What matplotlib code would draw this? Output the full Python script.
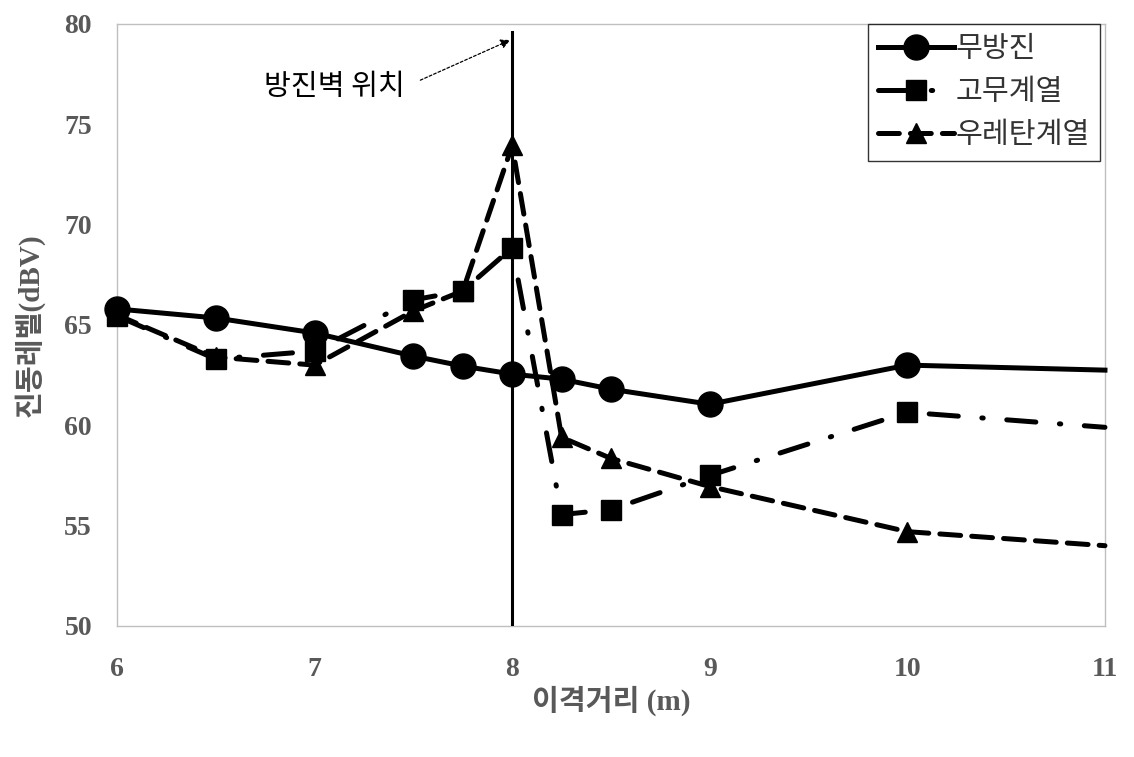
import matplotlib
matplotlib.use("Agg")
import matplotlib.pyplot as plt

plt.rcParams['lines.scale_dashes'] = False

x_base = [6, 6.5, 7, 7.5, 7.75, 8, 8.25, 8.5, 9, 10, 11]
none_vals = [65.8, 65.35, 64.6, 63.45, 62.95, 62.55, 62.3, 61.8, 61.05, 63.0, 62.75]
rubber_vals = [65.45, 63.3, 63.7, 66.25, 66.7, 68.85, 55.55, 55.8, 57.5, 60.65, 59.9]
urethane_vals = [65.5, 63.4, 63.0, 65.7, 66.7, 73.95, 59.4, 58.35, 56.95, 54.7, 54.0]
labels = ['무방진', '고무계열', '우레탄계열']
xticks = [6, 7, 8, 9, 10, 11]
yticks = [50, 55, 60, 65, 70, 75, 80]
wall_x = 8
wall_label = '방진벽 위치'

num_font = ['Liberation Serif', 'Noto Sans CJK KR']
kr_font = ['Noto Sans CJK KR', 'DejaVu Sans']
gray = '#595959'

fig = plt.figure(figsize=(11.34, 7.57), dpi=100)
ax = fig.add_axes([0.1032, 0.1731, 0.8712, 0.7952])

marks = list(range(len(x_base) - 1))

ax.plot(x_base, none_vals, color='black', lw=3.6, marker='o', ms=18,
        markevery=marks, label=labels[0], clip_on=False, zorder=5)
ax.plot(x_base, rubber_vals, color='black', lw=3.6, marker='s', ms=14,
        markevery=marks, dashes=(21, 17, 1, 17), dash_capstyle='round',
        label=labels[1], clip_on=False, zorder=4)
ax.plot(x_base, urethane_vals, color='black', lw=3.6, marker='^', ms=15,
        markevery=marks, dashes=(15, 8), dash_capstyle='round',
        label=labels[2], clip_on=False, zorder=4)

ax.plot([wall_x, wall_x], [50, 79.6], color='black', lw=2.2, zorder=3)
ax.text(7.457, 76.85, wall_label, fontsize=21, family=kr_font, color='black',
        ha='right', va='center')
ax.annotate('', xy=(7.99, 79.2), xytext=(7.535, 77.2),
            arrowprops=dict(arrowstyle='-|>', color='black', lw=0.9,
                            linestyle=(0, (2, 1.5)), mutation_scale=14,
                            shrinkA=0, shrinkB=0))

ax.set_xlim(6, 11)
ax.set_ylim(50, 80)
ax.set_xticks(xticks)
ax.set_yticks(yticks)
ax.tick_params(axis='x', length=0, pad=22, labelcolor=gray)
ax.tick_params(axis='y', length=0, pad=18, labelcolor=gray)
for t in ax.get_xticklabels() + ax.get_yticklabels():
    t.set_fontfamily(num_font)
    t.set_fontweight('bold')
    t.set_fontsize(20)
for s in ax.spines.values():
    s.set_color('#bfbfbf')
    s.set_linewidth(1.0)

ax.set_xlabel('이격거리 (m)', fontsize=21, fontweight='bold', color=gray,
              family=num_font, labelpad=3)
ax.set_ylabel('진동레벨(dBV)', fontsize=21, fontweight='bold', color=gray,
              family=num_font, labelpad=14)

leg = ax.legend(loc='upper right', bbox_to_anchor=(0.9949, 1.0), frameon=True,
                fancybox=False, edgecolor='black', handlelength=2.6,
                handletextpad=0.05, labelspacing=0.45, borderpad=0.35,
                borderaxespad=0.0,
                prop={'family': kr_font, 'size': 21})
leg.get_frame().set_linewidth(1.0)
for t in leg.get_texts():
    t.set_color('#333333')

fig.savefig('out.png', dpi=100, facecolor='white')
